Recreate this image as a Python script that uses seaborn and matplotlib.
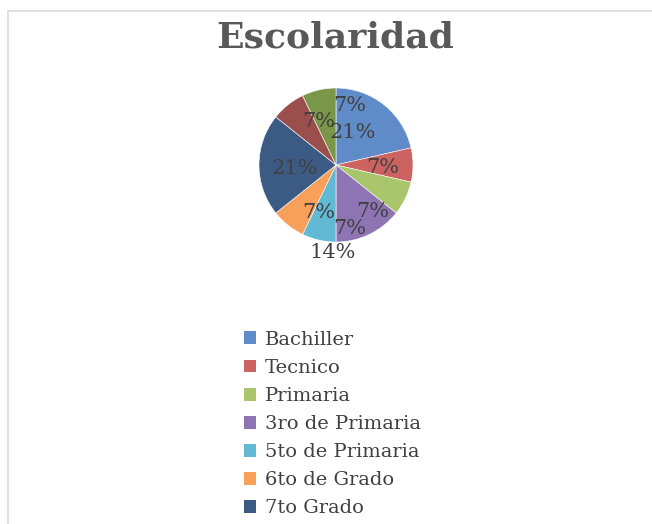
import matplotlib
matplotlib.use("Agg")
import matplotlib.pyplot as plt
import matplotlib.patches as mpatches
import seaborn as sns

# Escolaridad counts (shares: 21%, 7%, 7%, 14%, ...)
categories = ["Bachiller", "Tecnico", "Primaria", "3ro de Primaria",
              "5to de Primaria", "6to de Grado", "7to Grado",
              "Otro 1", "Otro 2"]
counts = [3, 1, 1, 2, 1, 1, 3, 1, 1]
legend_shown = 7  # the legend in the original is cut after 7 entries

colors = ["#5F8CC8", "#CC6361", "#A9C66C", "#8F74B3", "#62B9D3",
          "#F8A05A", "#3B5B84", "#9A4F4D", "#7A9649"]

# label placement (in pie-radius units), Excel "best fit" style
label_xy = [(0.22, 0.42), (0.61, -0.03), (0.48, -0.61), (-0.05, -1.13),
            (0.18, -0.82), (-0.23, -0.62), (-0.53, -0.04), (-0.23, 0.56),
            (0.18, 0.77)]

sns.set_theme(style="white")
plt.rcParams["font.family"] = ["DejaVu Serif"]

fig = plt.figure(figsize=(6.52, 5.24), dpi=100)

# chart border (light grey frame, cut at right/bottom)
fig.add_artist(plt.Line2D([8 / 652, 1], [1 - 11 / 524, 1 - 11 / 524],
                          transform=fig.transFigure, color="#D9D9D9", lw=1.2))
fig.add_artist(plt.Line2D([8 / 652, 8 / 652], [0, 1 - 11 / 524],
                          transform=fig.transFigure, color="#D9D9D9", lw=1.2))

fig.text(335 / 652, 1 - 38 / 524, "Escolaridad", ha="center", va="center",
         fontsize=26, fontweight="bold", color="#595959")

cx, cy, r = 336, 165, 77
ax = fig.add_axes([(cx - r) / 652, 1 - (cy + r) / 524, 2 * r / 652, 2 * r / 524])
wedges, _, autotexts = ax.pie(counts, colors=colors, startangle=90,
                              counterclock=False, radius=1,
                              autopct=lambda p: f"{p:.0f}%",
                              wedgeprops=dict(edgecolor="white", linewidth=0.4),
                              textprops=dict(fontsize=15, color="#404040"))
for t, (x, y) in zip(autotexts, label_xy):
    t.set_position((x, y))
ax.set_xlim(-1, 1)
ax.set_ylim(-1, 1)
ax.set_aspect("equal")

handles = [mpatches.Patch(facecolor=c, edgecolor="none") for c in colors[:legend_shown]]
fig.legend(handles, categories[:legend_shown], loc="upper left",
           bbox_to_anchor=(234 / 652, 1 - 321 / 524), frameon=False,
           fontsize=14, handlelength=0.65, handleheight=0.65,
           handletextpad=0.45, labelspacing=0.52, borderpad=0,
           labelcolor="#404040")

fig.savefig("out.png", dpi=100)
